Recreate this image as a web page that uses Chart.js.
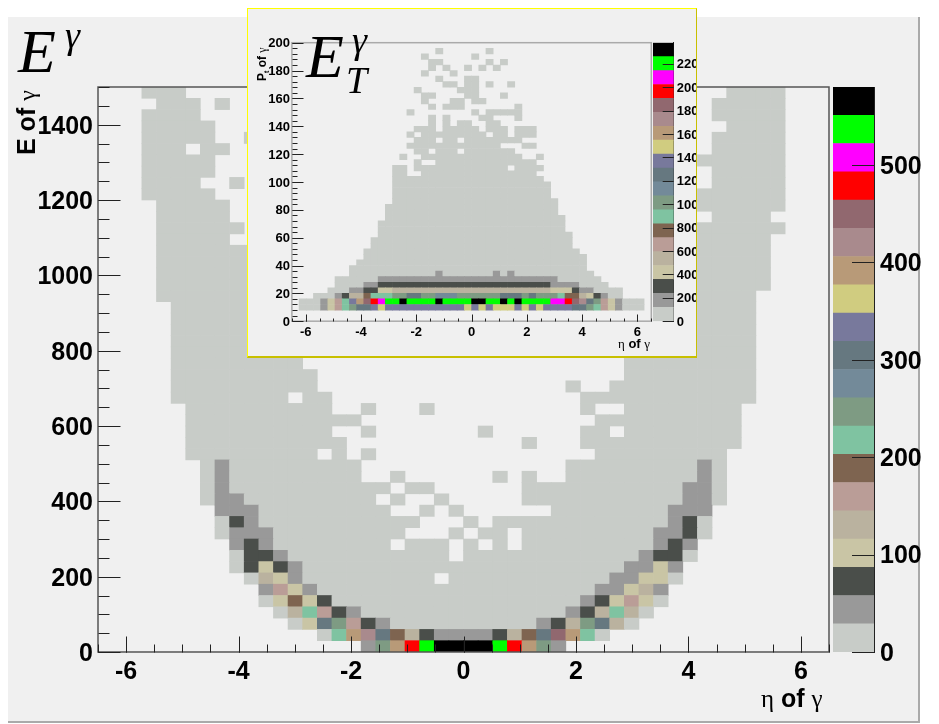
<!DOCTYPE html>
<html>
<head>
<meta charset="utf-8">
<script src="https://cdn.jsdelivr.net/npm/chart.js@4"></script>
<style>
  html, body { margin: 0; padding: 0; background: #fff; }
  #page { position: relative; width: 939px; height: 724px; overflow: hidden; }
  #page canvas { position: absolute; }
  #panel { position: absolute; left: 8px; top: 17px; width: 910px; height: 704px; background: #f0f0f0; border-right: 2px solid #aaa; border-bottom: 2px solid #aaa; }
  #insetPanel { position: absolute; left: 247px; top: 8px; width: 448px; height: 347px; background: #f0f0f0; border: 1px solid #ffff00; border-right: 1px solid #c8c000; border-bottom: 2px solid #c8c000; }
  .t { position: absolute; white-space: nowrap; line-height: 1; color: #000; }
  .big { font-family: "Liberation Serif"; font-style: italic; }
  .lab { font-family: "Liberation Sans"; font-weight: bold; }
  .lab span { font-family: "Liberation Serif"; font-weight: normal; }
  .up { transform: rotate(-90deg); transform-origin: left top; }
</style>
</head>
<body>
<div id="page">
  <div id="panel"></div>
  <canvas id="mainHist" style="left:0;top:0"></canvas>
  <canvas id="mainPal" style="left:833px;top:0"></canvas>
  <div id="insetPanel"></div>
  <canvas id="insetHist" style="left:248px;top:8px"></canvas>
  <canvas id="insetPal" style="left:653px;top:8px"></canvas>

  <div class="t big" style="left:18px;top:20px;font-size:62px">E</div>
  <div class="t big" style="left:65px;top:16px;font-size:38px">γ</div>
  <div class="t lab up" style="left:14px;top:155px;font-size:25px">E of <span style="font-size:24px">γ</span></div>
  <div class="t lab" style="left:761px;top:686px;font-size:25px"><span>η</span> of <span>γ</span></div>

  <div class="t big" style="left:306px;top:25px;font-size:62px">E</div>
  <div class="t big" style="left:352px;top:21px;font-size:38px">γ</div>
  <div class="t big" style="left:346px;top:61px;font-size:38px">T</div>
  <div class="t lab up" style="left:256px;top:81px;font-size:12px">P<sub style="font-size:7px">t</sub> of <span>γ</span></div>
  <div class="t lab" style="left:618px;top:337px;font-size:13px"><span>η</span> of <span>γ</span></div>
</div>
<script>
// light to dark, one colour per band of the palette
const paletteColors = ['#c8ccc8', '#999999', '#4a4e4a', '#c9c5a5', '#bab29f', '#ba9d97', '#7e6450', '#7fc3a1', '#7e9b83', '#738a99',
  '#667880', '#78799c', '#d0cc80', '#b89a78', '#a98a8d', '#91686f', '#ff0000', '#ff00ff', '#00ff00', '#000000'];

const etaTicks = [-6, -4, -2, 0, 2, 4, 6];
const etaMinorTicks = [-6.5, -6, -5.5, -5, -4.5, -4, -3.5, -3, -2.5, -2, -1.5, -1, -0.5, 0, 0.5, 1, 1.5, 2, 2.5, 3, 3.5, 4, 4.5, 5, 5.5, 6, 6.5];
const energyTicks = [0, 200, 400, 600, 800, 1000, 1200, 1400];
const energyMinorTicks = [0, 50, 100, 150, 200, 250, 300, 350, 400, 450, 500, 550, 600, 650, 700, 750, 800, 850, 900, 950, 1000, 1050, 1100, 1150, 1200, 1250, 1300, 1350, 1400, 1450, 1500];
const ptTicks = [0, 20, 40, 60, 80, 100, 120, 140, 160, 180, 200];
const ptMinorTicks = [0, 4, 8, 12, 16, 20, 24, 28, 32, 36, 40, 44, 48, 52, 56, 60, 64, 68, 72, 76, 80, 84, 88, 92, 96, 100, 104, 108, 112, 116, 120, 124, 128, 132, 136, 140, 144, 148, 152, 156, 160, 164, 168, 172, 176, 180, 184, 188, 192, 196, 200];
const energyPalTicks = [0, 100, 200, 300, 400, 500];
const ptPalTicks = [0, 200, 400, 600, 800, 1000, 1200, 1400, 1600, 1800, 2000, 2200];

// each row runs top to bottom of the plot, each entry is [first eta bin, last eta bin, count]
const energyRows = [
  [[3,5,10],[43,46,10]],
  [[4,6,10],[8,8,10],[42,46,10]],
  [[3,6,10],[42,46,10]],
  [[3,7,10],[43,46,10]],
  [[3,7,10],[10,10,10],[42,46,10]],
  [[3,5,10],[7,8,10],[42,46,10]],
  [[3,7,10],[41,46,10]],
  [[3,7,10],[42,46,10]],
  [[3,6,10],[9,9,10],[42,46,10]],
  [[3,7,10],[41,46,10]],
  [[4,8,10],[41,46,10]],
  [[4,8,10],[42,45,10]],
  [[4,9,10],[41,46,10]],
  [[4,8,10],[41,45,10]],
  [[4,12,10],[38,45,10]],
  [[4,12,10],[38,45,10]],
  [[4,12,10],[38,45,10]],
  [[4,12,10],[38,45,10]],
  [[4,12,10],[38,44,10]],
  [[5,12,10],[37,44,10]],
  [[5,12,10],[37,44,10]],
  [[5,13,10],[37,44,10]],
  [[5,13,10],[36,44,10]],
  [[5,13,10],[36,44,10]],
  [[5,13,10],[36,44,10]],
  [[5,14,10],[36,44,10]],
  [[5,14,10],[32,32,10],[35,44,10]],
  [[5,12,10],[14,15,10],[33,44,10]],
  [[6,15,10],[18,18,10],[22,22,10],[33,33,10],[36,43,10]],
  [[6,17,10],[34,43,10]],
  [[6,15,10],[18,18,10],[26,26,10],[33,34,10],[36,43,10]],
  [[6,16,10],[29,29,10],[33,43,10]],
  [[6,14,10],[16,16,10],[18,18,10],[34,42,10]],
  [[7,7,10],[8,8,40],[9,17,10],[32,40,10],[41,41,40],[42,42,10]],
  [[7,7,10],[8,8,40],[9,17,10],[20,20,10],[27,27,10],[29,29,10],[32,40,10],[41,41,40],[42,42,10]],
  [[7,7,10],[8,8,40],[9,19,10],[21,22,10],[29,39,10],[40,41,40],[42,42,10]],
  [[7,7,10],[8,9,40],[10,18,10],[20,20,10],[23,23,10],[29,39,10],[40,41,40],[42,42,10]],
  [[8,10,40],[11,19,10],[22,22,10],[24,24,10],[31,38,10],[39,41,40]],
  [[8,8,10],[9,9,70],[10,10,40],[11,21,10],[25,25,10],[27,38,10],[39,39,40],[40,40,70],[41,41,10]],
  [[8,8,10],[9,11,40],[12,20,10],[24,24,10],[26,27,10],[29,37,10],[38,39,40],[40,40,70],[41,41,10]],
  [[9,9,40],[10,10,70],[11,11,40],[12,19,10],[21,23,10],[25,25,10],[27,27,10],[29,37,10],[38,38,40],[39,39,70],[40,40,40]],
  [[9,9,10],[10,11,70],[12,12,40],[13,23,10],[25,36,10],[37,37,40],[38,39,70],[40,40,10]],
  [[9,9,10],[10,10,70],[11,11,100],[12,12,70],[13,13,40],[14,35,10],[36,37,40],[38,38,100],[39,39,40]],
  [[10,10,10],[11,11,130],[12,12,100],[13,13,40],[14,22,10],[24,34,10],[35,36,40],[37,38,100],[39,39,10]],
  [[11,11,40],[12,12,160],[13,13,100],[14,14,40],[15,33,10],[34,35,40],[36,36,100],[37,37,130],[38,38,40]],
  [[11,11,10],[12,12,100],[13,13,190],[14,14,100],[15,15,70],[16,32,10],[33,33,40],[34,34,70],[35,35,100],[36,36,160],[37,37,100],[38,38,10]],
  [[12,12,10],[13,13,130],[14,14,220],[15,15,160],[16,16,70],[17,17,40],[18,31,10],[32,32,40],[33,33,70],[34,34,130],[35,35,220],[36,36,130],[37,37,10]],
  [[13,13,10],[14,14,100],[15,15,310],[16,16,250],[17,17,160],[18,18,70],[19,19,40],[20,29,10],[30,30,40],[31,31,70],[32,32,130],[33,33,250],[34,34,310],[35,35,130],[36,36,10]],
  [[15,15,10],[16,16,220],[17,17,400],[18,18,430],[19,19,310],[20,20,190],[21,21,130],[22,22,70],[23,26,40],[27,27,70],[28,28,130],[29,29,190],[30,30,310],[31,31,460],[32,32,400],[33,33,220],[34,34,10]],
  [[18,18,40],[19,19,250],[20,20,400],[21,21,490],[22,22,550],[23,26,575],[27,27,550],[28,28,490],[29,29,400],[30,30,250],[31,31,40]]
];

const ptRows = [
  [],
  [[20,20,50],[27,27,50]],
  [[18,18,50],[25,25,50]],
  [[19,20,50],[27,27,50],[29,29,50]],
  [[19,19,50],[21,21,50],[24,24,50],[26,26,50],[28,28,50]],
  [[18,18,50],[22,22,50]],
  [[20,20,50],[24,25,50]],
  [[21,22,50],[24,25,50],[27,27,50],[30,30,50]],
  [[17,17,50],[23,25,50]],
  [[18,19,50],[24,25,50],[29,29,50]],
  [[18,18,50],[22,23,50],[25,26,50]],
  [[19,19,50],[21,23,50],[31,31,50]],
  [[16,16,50],[25,25,50],[27,31,50]],
  [[19,19,50],[21,21,50],[26,27,50],[31,31,50]],
  [[19,19,50],[21,21,50],[23,24,50],[27,28,50]],
  [[17,19,50],[21,25,50],[27,29,50],[31,33,50]],
  [[16,16,50],[18,26,50],[28,29,50],[31,33,50]],
  [[17,19,50],[21,22,50],[24,31,50]],
  [[16,28,50],[32,33,50]],
  [[17,18,50],[20,22,50],[24,30,50]],
  [[15,15,50],[18,31,50],[34,34,50]],
  [[17,17,50],[20,33,50]],
  [[14,15,50],[17,29,50],[31,34,50]],
  [[14,15,50],[18,33,50]],
  [[14,34,50]],
  [[14,35,50]],
  [[14,35,50]],
  [[14,35,50]],
  [[14,36,50]],
  [[13,36,50]],
  [[13,36,50]],
  [[13,37,50]],
  [[12,37,50]],
  [[12,37,50]],
  [[12,38,50]],
  [[11,38,50]],
  [[11,38,50]],
  [[10,39,50]],
  [[10,40,50]],
  [[9,40,50]],
  [[8,40,50]],
  [[8,19,50],[20,20,170],[21,27,50],[28,28,170],[29,29,50],[30,30,170],[31,41,50]],
  [[6,11,50],[12,36,170],[37,42,50]],
  [[6,9,50],[10,11,170],[12,35,290],[36,39,170],[40,43,50]],
  [[5,7,50],[8,9,170],[10,11,290],[12,13,410],[14,35,530],[36,38,410],[39,39,290],[40,41,170],[42,45,50]],
  [[3,5,50],[6,6,170],[7,7,290],[8,9,530],[10,10,770],[11,13,890],[14,15,1010],[16,17,1250],[18,19,1010],[20,22,1130],[23,28,1010],[29,31,1250],[32,32,1010],[33,33,1250],[34,36,1010],[37,37,890],[38,39,770],[40,40,530],[41,41,410],[42,42,290],[43,43,170],[44,45,50]],
  [[1,3,50],[4,4,170],[5,5,410],[6,6,650],[7,7,890],[8,8,1360],[9,9,1600],[10,10,1840],[11,11,1960],[12,12,2080],[13,14,2200],[15,15,2340],[16,19,2200],[20,20,2340],[21,24,2200],[25,26,2340],[27,28,2200],[29,29,2340],[30,30,2200],[31,31,2340],[32,35,2200],[36,37,2080],[38,38,1960],[39,39,1840],[40,40,1720],[41,41,1250],[42,42,1010],[43,43,650],[44,44,410],[45,45,170],[46,48,50]],
  [[1,3,50],[4,4,170],[5,5,410],[6,6,650],[7,7,890],[8,8,1010],[9,10,1250],[11,11,1360],[12,12,1480],[13,23,1360],[24,24,1480],[25,25,1360],[26,26,1480],[27,27,1360],[28,30,1480],[31,31,1360],[32,32,1480],[33,33,1360],[34,34,1480],[35,38,1360],[39,40,1250],[41,41,1010],[42,42,890],[43,43,650],[44,44,410],[45,45,170],[46,48,50]],
  [],
  []
];

const etaBinWidth = 0.26;

// turn the rows into floating bars, one per filled bin
function cellsFrom(rows, binHeight, zMax) {
  const cells = [];
  const colors = [];
  const band = zMax / paletteColors.length;
  rows.forEach((row, r) => {
    const low = (rows.length - 1 - r) * binHeight;
    row.forEach(run => {
      for (let bin = run[0]; bin <= run[1]; bin++) {
        cells.push({ x: -6.5 + (bin + 0.5) * etaBinWidth, y: [low, low + binHeight] });
        colors.push(paletteColors[Math.floor(run[2] / band)]);
      }
    });
  });
  return { cells, colors };
}

// frame and inward tick marks, read through the chart's own scales
const frameTicks = {
  id: 'frameTicks',
  afterDatasetsDraw(chart, args, opts) {
    const ctx = chart.ctx;
    const a = chart.chartArea;
    ctx.save();
    ctx.strokeStyle = opts.color;
    ctx.lineWidth = opts.width;
    ctx.strokeRect(a.left, a.top, a.right - a.left, a.bottom - a.top);
    ctx.lineWidth = 1;
    ctx.strokeStyle = '#222';
    const seg = (x1, y1, x2, y2) => { ctx.beginPath(); ctx.moveTo(Math.round(x1) + 0.5, Math.round(y1) + 0.5); ctx.lineTo(Math.round(x2) + 0.5, Math.round(y2) + 0.5); ctx.stroke(); };
    opts.xMinor.forEach(v => { const p = chart.scales.x.getPixelForValue(v); seg(p, a.bottom, p, a.bottom - opts.xLen / 2); });
    opts.xMajor.forEach(v => { const p = chart.scales.x.getPixelForValue(v); seg(p, a.bottom, p, a.bottom - opts.xLen); });
    opts.yMinor.forEach(v => { const p = chart.scales.y.getPixelForValue(v); seg(a.left, p, a.left + opts.yLen / 2, p); });
    opts.yMajor.forEach(v => { const p = chart.scales.y.getPixelForValue(v); seg(a.left, p, a.left + opts.yLen, p); });
    ctx.restore();
  }
};

const paletteTicks = {
  id: 'paletteTicks',
  afterDatasetsDraw(chart, args, opts) {
    const ctx = chart.ctx;
    const a = chart.chartArea;
    ctx.save();
    ctx.strokeStyle = '#222';
    ctx.lineWidth = 1;
    opts.values.forEach(v => {
      const p = Math.round(chart.scales.y.getPixelForValue(v)) + 0.5;
      ctx.beginPath();
      ctx.moveTo(a.right, p);
      ctx.lineTo(a.right - opts.len, p);
      ctx.stroke();
    });
    ctx.restore();
  }
};

function histChart(id, size, rows, binHeight, zMax, o) {
  const canvas = document.getElementById(id);
  canvas.width = size[0];
  canvas.height = size[1];
  canvas.style.width = size[0] + 'px';
  canvas.style.height = size[1] + 'px';
  const built = cellsFrom(rows, binHeight, zMax);
  return new Chart(canvas, {
    type: 'bar',
    data: {
      datasets: [{
        data: built.cells,
        backgroundColor: built.colors,
        borderWidth: 0,
        barPercentage: 1,
        categoryPercentage: 1
      }]
    },
    options: {
      responsive: false,
      animation: false,
      layout: { padding: o.padding },
      plugins: {
        legend: { display: false },
        tooltip: { enabled: false },
        frameTicks: o.frame
      },
      scales: {
        x: {
          type: 'linear',
          offset: false,
          min: -6.5,
          max: 6.5,
          grid: { display: false, drawTicks: false },
          border: { display: false },
          afterFit(s) { s.height = o.xHeight; },
          afterBuildTicks(s) { s.ticks = etaTicks.map(v => ({ value: v })); },
          ticks: { color: '#000', padding: o.xPad, maxRotation: 0, autoSkip: false, callback: v => String(v), font: { family: 'Liberation Sans', weight: 'bold', size: o.fontSize } }
        },
        y: {
          type: 'linear',
          min: 0,
          max: binHeight * rows.length,
          grid: { display: false, drawTicks: false },
          border: { display: false },
          afterFit(s) { s.width = o.yWidth; },
          afterBuildTicks(s) { s.ticks = o.frame.yMajor.map(v => ({ value: v })); },
          ticks: { color: '#000', padding: o.yPad, labelOffset: o.labelOffset, autoSkip: false, callback: v => String(v), font: { family: 'Liberation Sans', weight: 'bold', size: o.fontSize } }
        }
      }
    },
    plugins: [frameTicks]
  });
}

function paletteChart(id, size, zMax, tickValues, o) {
  const canvas = document.getElementById(id);
  canvas.width = size[0];
  canvas.height = size[1];
  canvas.style.width = size[0] + 'px';
  canvas.style.height = size[1] + 'px';
  const band = zMax / paletteColors.length;
  return new Chart(canvas, {
    type: 'bar',
    data: {
      labels: ['z'],
      datasets: paletteColors.map((c, k) => ({
        data: [[k * band, (k + 1) * band]],
        backgroundColor: c,
        borderWidth: 0,
        grouped: false,
        barPercentage: 1,
        categoryPercentage: 1
      }))
    },
    options: {
      responsive: false,
      animation: false,
      layout: { padding: o.padding },
      plugins: {
        legend: { display: false },
        tooltip: { enabled: false },
        paletteTicks: { values: tickValues, len: o.tickLen }
      },
      scales: {
        x: { display: false },
        y: {
          position: 'right',
          min: 0,
          max: zMax,
          grid: { display: false, drawTicks: false },
          border: { color: '#222', width: 1 },
          afterFit(s) { s.width = o.yWidth; },
          afterBuildTicks(s) { s.ticks = tickValues.map(v => ({ value: v })); },
          ticks: { color: '#000', padding: o.yPad, labelOffset: o.labelOffset, autoSkip: false, callback: v => String(v), font: { family: 'Liberation Sans', weight: 'bold', size: o.fontSize } }
        }
      }
    },
    plugins: [paletteTicks]
  });
}

histChart('mainHist', [939, 724], energyRows, 30, 580, {
  padding: { top: 87, right: 110, left: 0, bottom: 0 },
  xHeight: 72, yWidth: 98, xPad: 5, yPad: 5, fontSize: 25, labelOffset: 2,
  frame: { color: '#555', width: 1.5, xLen: 16, yLen: 22, xMajor: etaTicks, xMinor: etaMinorTicks, yMajor: energyTicks, yMinor: energyMinorTicks }
});
paletteChart('mainPal', [106, 724], 580, energyPalTicks, {
  padding: { top: 87, bottom: 72, left: 0, right: 0 },
  yWidth: 65, yPad: 6, fontSize: 25, labelOffset: 2, tickLen: 22
});

histChart('insetHist', [405, 348], ptRows, 4, 2380, {
  padding: { top: 34.7, right: 1.7, left: 0, bottom: 0 },
  xHeight: 34.8, yWidth: 43.9, xPad: 3, yPad: 2, fontSize: 13, labelOffset: 1,
  frame: { color: '#aaa', width: 1.5, xLen: 7, yLen: 11, xMajor: etaTicks, xMinor: etaMinorTicks, yMajor: ptTicks, yMinor: ptMinorTicks }
});
paletteChart('insetPal', [43, 348], 2380, ptPalTicks, {
  padding: { top: 34.7, bottom: 34.8, left: 0, right: 0 },
  yWidth: 22.3, yPad: 3, fontSize: 13, labelOffset: 1, tickLen: 11
});
</script>
</body>
</html>
